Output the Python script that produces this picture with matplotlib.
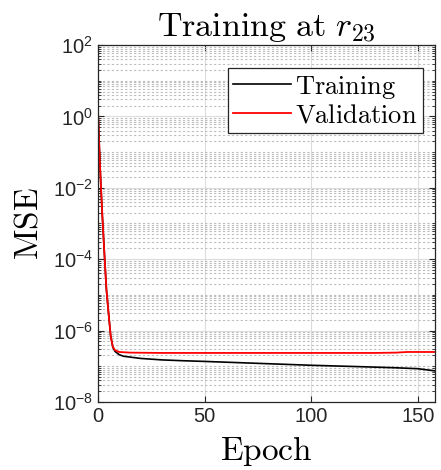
import matplotlib
matplotlib.use("Agg")
import matplotlib.pyplot as plt
from matplotlib.ticker import LogLocator, FixedLocator, NullFormatter

# Values (epoch, MSE)
val_epochs = [0, 1, 2, 3, 4, 5, 6, 7, 8, 10, 15, 30, 60, 100, 130, 140, 145, 158]
val_mse = [1.7, 4e-2, 2e-3, 1.6e-4, 1.4e-5, 3e-6, 7e-7, 3.5e-7, 2.8e-7, 2.5e-7,
           2.4e-7, 2.35e-7, 2.35e-7, 2.35e-7, 2.35e-7, 2.4e-7, 2.5e-7, 2.5e-7]

train_epochs = [0, 1, 2, 3, 4, 5, 6, 7, 8, 10, 12, 20, 30, 40, 50, 75, 100, 125, 140, 150, 158]
train_mse = [1.7, 4e-2, 2e-3, 1.6e-4, 1.4e-5, 3e-6, 7e-7, 3.4e-7, 2.6e-7, 2.1e-7, 1.9e-7,
             1.65e-7, 1.5e-7, 1.42e-7, 1.36e-7, 1.2e-7, 1.06e-7, 0.96e-7, 0.9e-7, 0.85e-7, 0.74e-7]

x_ticks = [0, 50, 100, 150]
y_ticks = [1e-8, 1e-6, 1e-4, 1e-2, 1e0, 1e2]

plt.rcParams['font.family'] = ['Liberation Sans', 'DejaVu Sans']
plt.rcParams['mathtext.fontset'] = 'custom'
plt.rcParams['mathtext.rm'] = 'Liberation Sans'
plt.rcParams['mathtext.it'] = 'Liberation Sans:italic'

fig = plt.figure(figsize=(4.41, 4.70), dpi=100)
ax = fig.add_axes([0.222, 0.145, 0.764, 0.759])

ax.plot(train_epochs, train_mse, color='black', lw=1.2, label=r'$\mathrm{Training}$')
ax.plot(val_epochs, val_mse, color='#ff0000', lw=1.3, label=r'$\mathrm{Validation}$')

ax.set_yscale('log')
ax.set_xlim(0, 158)
ax.set_ylim(1e-8, 1e2)
ax.set_xticks(x_ticks)
ax.yaxis.set_major_locator(FixedLocator(y_ticks))
ax.yaxis.set_minor_locator(LogLocator(base=10, subs=[1, 2, 3, 4, 5, 6, 7, 8, 9], numticks=30))
ax.yaxis.set_minor_formatter(NullFormatter())

ax.grid(True, which='major', color='#dcdcdc', lw=0.8, ls='-')
ax.grid(True, which='minor', axis='y', color='#bdbdbd', lw=0.8, ls=(0, (2, 2)))
ax.set_axisbelow(True)

ax.tick_params(which='both', direction='in', top=True, right=True, colors='#262626',
               labelsize=14.5)
ax.tick_params(which='major', length=4)
ax.tick_params(which='minor', length=2)
for s in ax.spines.values():
    s.set_color('#262626')
    s.set_linewidth(0.9)

ax.set_title(r'$\mathrm{Training\ at\ }r_{23}$', fontsize=24.5, math_fontfamily='cm', pad=3)
ax.set_xlabel(r'$\mathrm{Epoch}$', fontsize=24, math_fontfamily='cm', labelpad=6)
ax.set_ylabel(r'$\mathrm{MSE}$', fontsize=24, math_fontfamily='cm', labelpad=6)

leg = ax.legend(loc='upper right', bbox_to_anchor=(0.965, 0.935), fontsize=19,
                fancybox=False, framealpha=1, edgecolor='#262626', borderpad=0.2,
                handlelength=2.2, handletextpad=0.15, labelspacing=0.1, borderaxespad=0)
leg.get_frame().set_linewidth(0.9)
for t in leg.get_texts():
    t.set_math_fontfamily('cm')

fig.savefig('out.png', dpi=100)
